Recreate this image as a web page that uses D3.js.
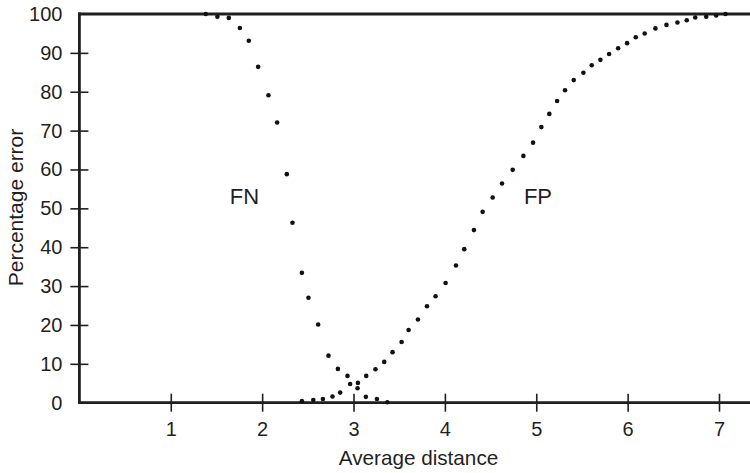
<!DOCTYPE html>
<html>
<head>
<meta charset="utf-8">
<script src="https://cdn.jsdelivr.net/npm/d3@7"></script>
<style>
  html, body { margin: 0; padding: 0; background: #fff; }
  svg { display: block; font-family: "Liberation Sans", Arial, Helvetica, sans-serif; }
</style>
</head>
<body>
<svg id="chart" width="750" height="473"></svg>
<script>
// False-negative rate by average distance
const fnDistance = [1.383, 1.51, 1.635, 1.756, 1.854, 1.956, 2.069, 2.164, 2.27, 2.332,
  2.435, 2.507, 2.613, 2.726, 2.829, 2.934, 3.044, 3.135, 3.256, 3.37];
const fnError = [100, 99.3, 99.0, 96.4, 93.1, 86.4, 79.1, 72.1, 58.8, 46.3,
  33.4, 27.0, 20.1, 12.1, 8.7, 6.9, 3.7, 1.5, 0.95, 0.1];

// False-positive rate by average distance
const fpDistance = [2.435, 2.56, 2.665, 2.77, 2.854, 2.963, 3.048, 3.139, 3.24, 3.336,
  3.427, 3.526, 3.603, 3.705, 3.804, 3.898, 4.008, 4.121, 4.212, 4.318,
  4.413, 4.523, 4.625, 4.742, 4.859, 4.965, 5.056, 5.143, 5.228, 5.315,
  5.41, 5.516, 5.607, 5.702, 5.797, 5.896, 5.994, 6.089, 6.187, 6.304,
  6.425, 6.545, 6.647, 6.74, 6.86, 6.969, 7.071];
const fpError = [0.4, 0.7, 0.95, 1.6, 2.6, 4.8, 5.1, 6.9, 8.6, 10.5,
  13.0, 15.6, 18.7, 21.4, 24.8, 27.4, 30.8, 35.3, 39.5, 44.4,
  49.1, 52.8, 56.4, 59.9, 63.5, 66.9, 70.9, 74.3, 77.6, 80.4,
  83.0, 84.9, 86.8, 88.2, 89.7, 91.2, 92.5, 94.0, 95.0, 96.3,
  97.2, 97.8, 98.4, 99.1, 99.3, 99.6, 100];

const xTicks = [1, 2, 3, 4, 5, 6, 7];
const yTicks = [0, 10, 20, 30, 40, 50, 60, 70, 80, 90, 100];

const seriesLabels = [
  { name: "FN", at: 1.807, level: 51.1 },
  { name: "FP", at: 5.019, level: 51.1 }
];

const svg = d3.select("#chart");
const W = 750, H = 473;
const plotLeft = 79.4, plotTop = 14, plotBottom = 402.7;

const x = d3.scaleLinear().domain([0, 7]).range([plotLeft, 719]);
const y = d3.scaleLinear().domain([0, 100]).range([plotBottom, plotTop]);

const ink = "#1f1f1f";

// Y axis: labels for every decade, tick marks only between the frame lines
const yAxis = svg.append("g")
  .attr("transform", `translate(${plotLeft},0)`)
  .call(d3.axisLeft(y).tickValues(yTicks).tickFormat(d3.format("d"))
    .tickSizeInner(9).tickSizeOuter(0).tickPadding(8));
yAxis.select(".domain").remove();
yAxis.selectAll(".tick line")
  .attr("x1", 9)
  .attr("stroke", ink)
  .attr("stroke-width", 1.6)
  .attr("display", d => (d === 0 || d === 100) ? "none" : null);
yAxis.selectAll(".tick text")
  .attr("fill", ink)
  .attr("font-size", 20)
  .attr("font-family", "Liberation Sans, Arial, sans-serif");

// X axis with ticks crossing the baseline
const xAxis = svg.append("g")
  .attr("transform", `translate(0,${plotBottom})`)
  .call(d3.axisBottom(x).tickValues(xTicks).tickFormat(d3.format("d"))
    .tickSizeInner(9).tickSizeOuter(0).tickPadding(10));
xAxis.select(".domain").remove();
xAxis.selectAll(".tick line")
  .attr("y1", -9)
  .attr("stroke", ink)
  .attr("stroke-width", 1.6);
xAxis.selectAll(".tick text")
  .attr("fill", ink)
  .attr("font-size", 20)
  .attr("font-family", "Liberation Sans, Arial, sans-serif");

// Frame: left, bottom and top lines
const frame = svg.append("g").attr("stroke", ink).attr("stroke-width", 2.8).attr("fill", "none");
frame.append("line").attr("x1", plotLeft).attr("x2", plotLeft).attr("y1", plotTop - 1.4).attr("y2", plotBottom + 1.4);
frame.append("line").attr("x1", plotLeft - 1.4).attr("x2", W).attr("y1", plotBottom).attr("y2", plotBottom);
frame.append("line").attr("x1", plotLeft - 1.4).attr("x2", W).attr("y1", plotTop).attr("y2", plotTop);

// Dotted series
const dots = svg.append("g").attr("fill", "#111");
dots.selectAll("circle.fn")
  .data(d3.zip(fnDistance, fnError))
  .join("circle")
  .attr("class", "fn")
  .attr("cx", d => x(d[0]))
  .attr("cy", d => y(d[1]))
  .attr("r", 2.3);
dots.selectAll("circle.fp")
  .data(d3.zip(fpDistance, fpError))
  .join("circle")
  .attr("class", "fp")
  .attr("cx", d => x(d[0]))
  .attr("cy", d => y(d[1]))
  .attr("r", 2.3);

// Series names
svg.append("g").selectAll("text")
  .data(seriesLabels)
  .join("text")
  .attr("x", d => x(d.at))
  .attr("y", d => y(d.level))
  .attr("text-anchor", "middle")
  .attr("font-size", 22)
  .attr("fill", ink)
  .text(d => d.name);

// Axis titles
svg.append("text")
  .attr("x", 418.5)
  .attr("y", 465)
  .attr("text-anchor", "middle")
  .attr("font-size", 20.7)
  .attr("fill", ink)
  .text("Average distance");

svg.append("text")
  .attr("transform", "translate(22.7,207.5) rotate(-90)")
  .attr("text-anchor", "middle")
  .attr("font-size", 21)
  .attr("fill", ink)
  .text("Percentage error");
</script>
</body>
</html>
